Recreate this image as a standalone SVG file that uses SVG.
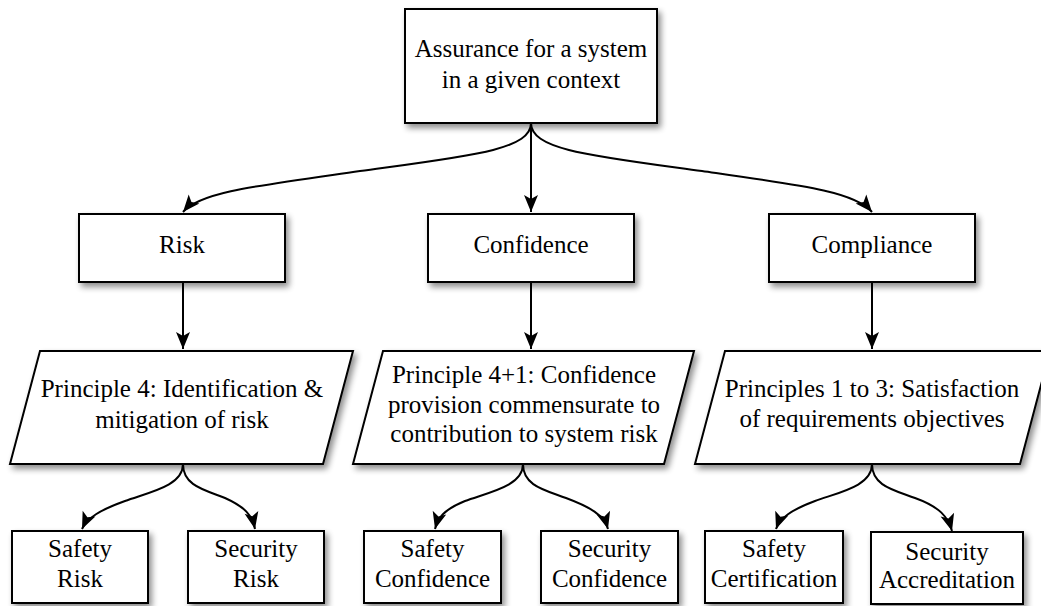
<svg xmlns="http://www.w3.org/2000/svg" width="1041" height="606" viewBox="0 0 1041 606">
<style>
.box{fill:#fff;stroke:#000;stroke-width:2}
.e{fill:none;stroke:#000;stroke-width:2}
</style>
<defs>
<filter id="sh" x="-10%" y="-10%" width="130%" height="150%">
<feGaussianBlur in="SourceAlpha" stdDeviation="3"/>
<feOffset dx="3" dy="4" result="b"/>
<feComponentTransfer><feFuncA type="linear" slope="0.45"/></feComponentTransfer>
<feMerge><feMergeNode/><feMergeNode in="SourceGraphic"/></feMerge>
</filter>
<marker id="ah" markerUnits="userSpaceOnUse" markerWidth="20" markerHeight="16" refX="17" refY="7" orient="auto" overflow="visible">
<path d="M0,0 L17,7 L0,14 L4,7 z" fill="#000"/>
</marker>
</defs>
<rect width="1041" height="606" fill="#fff"/>
<g id="connectors" fill="none" stroke="#000" stroke-width="2" marker-end="url(#ah)">
<path d="M531,123 C531,150 470,156 360,171 C255,186 200,192 183,212"/>
<path d="M531,123 L531,212"/>
<path d="M531,123 C531,150 592,156 702,171 C807,186 855,192 872,212"/>
<path d="M183,282 L183,349"/>
<path d="M531,282 L531,349"/>
<path d="M872,282 L872,349"/>
<path d="M183,464 C183,486 150,492 125,501 C100,510 87,518 82,529"/>
<path d="M183,464 C183,486 205,490 225,498 C245,507 252,515 255,529"/>
<path d="M523,464 C523,486 490,492 465,501 C443,510 438,518 435,529"/>
<path d="M523,464 C523,486 545,490 566,498 C590,507 604,515 608,529"/>
<path d="M872,464 C872,486 840,492 815,501 C791,510 780,518 776,529"/>
<path d="M872,464 C872,486 894,490 915,498 C940,507 948,517 952,531"/>
</g>
<g font-family="Liberation Serif, Times New Roman, DejaVu Serif, serif" font-size="25" text-anchor="middle" fill="#000">
<g id="n-top"><rect class="box" filter="url(#sh)" x="405" y="9" width="252" height="114"/><text x="531" y="57">Assurance for a system</text><text x="531" y="88">in a given context</text></g>
<g id="n-risk"><rect class="box" filter="url(#sh)" x="79" y="214" width="206" height="68"/><text x="182" y="253">Risk</text></g>
<g id="n-confidence"><rect class="box" filter="url(#sh)" x="428" y="214" width="206" height="68"/><text x="531" y="253">Confidence</text></g>
<g id="n-compliance"><rect class="box" filter="url(#sh)" x="769" y="214" width="206" height="68"/><text x="872" y="253">Compliance</text></g>
<g id="n-p4"><polygon class="box" filter="url(#sh)" points="40,351 353,351 323,464 10,464"/><text x="182" y="397">Principle 4: Identification &amp;</text><text x="182" y="428">mitigation of risk</text></g>
<g id="n-p41"><polygon class="box" filter="url(#sh)" points="383,351 694,351 664,464 353,464"/><text x="524" y="383">Principle 4+1: Confidence</text><text x="524" y="413">provision commensurate to</text><text x="524" y="442">contribution to system risk</text></g>
<g id="n-p13"><polygon class="box" filter="url(#sh)" points="725,351 1050,351 1020,464 695,464"/><text x="872" y="397">Principles 1 to 3: Satisfaction</text><text x="872" y="427">of requirements objectives</text></g>
<g id="n-safety-risk"><rect class="box" filter="url(#sh)" x="12" y="531" width="136" height="72"/><text x="80" y="557">Safety</text><text x="80" y="587">Risk</text></g>
<g id="n-security-risk"><rect class="box" filter="url(#sh)" x="188" y="531" width="136" height="72"/><text x="256" y="557">Security</text><text x="256" y="587">Risk</text></g>
<g id="n-safety-conf"><rect class="box" filter="url(#sh)" x="364" y="531" width="137" height="72"/><text x="432.5" y="557">Safety</text><text x="432.5" y="587">Confidence</text></g>
<g id="n-security-conf"><rect class="box" filter="url(#sh)" x="541" y="531" width="137" height="72"/><text x="609.5" y="557">Security</text><text x="609.5" y="587">Confidence</text></g>
<g id="n-safety-cert"><rect class="box" filter="url(#sh)" x="705" y="531" width="138" height="72"/><text x="774" y="557">Safety</text><text x="774" y="587">Certification</text></g>
<g id="n-security-accr"><rect class="box" filter="url(#sh)" x="871" y="532" width="152" height="72"/><text x="947" y="560">Security</text><text x="947" y="588">Accreditation</text></g>
</g>
</svg>
